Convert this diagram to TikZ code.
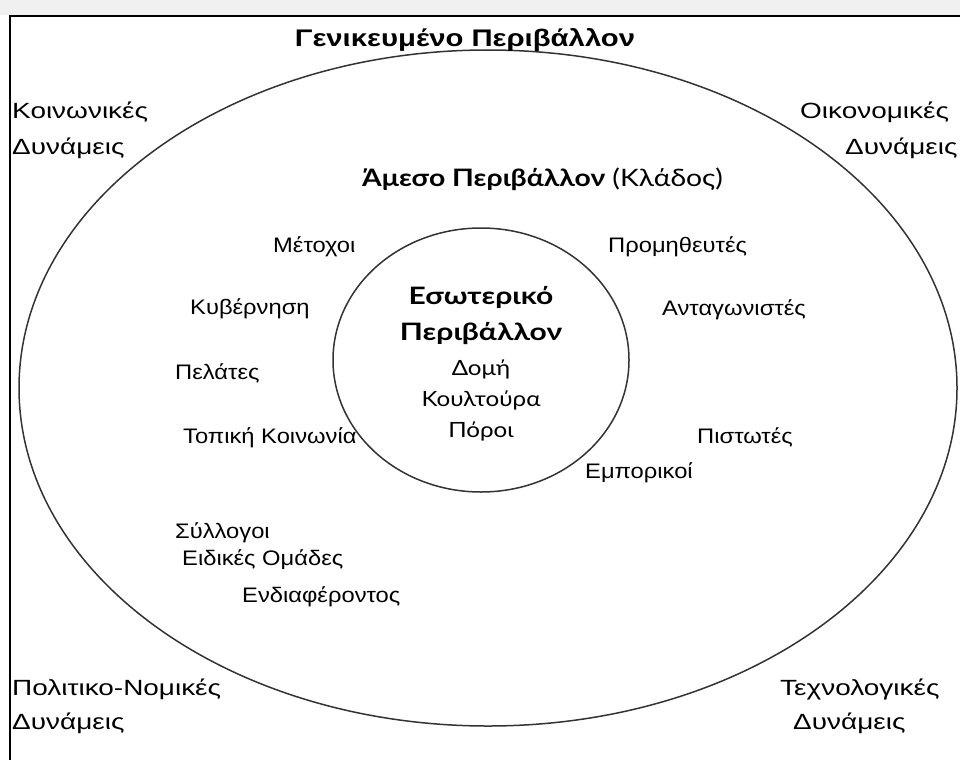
\documentclass[tikz,border=0pt]{standalone}
\usepackage{fontspec}
\usetikzlibrary{shapes.geometric}
\setmainfont{Liberation Sans}
\newfontfamily\cornerfont[FakeStretch=1.27]{Liberation Sans}
\newfontfamily\stakefont[FakeStretch=1.13]{Liberation Sans}
\newfontfamily\titlefont[FakeStretch=1.22]{Liberation Sans}
\newfontfamily\humfont[FakeStretch=1.18]{Lato}
\newfontfamily\humwide[FakeStretch=1.25]{Lato}
\newfontfamily\humreg[FakeStretch=1.15]{Lato}
\begin{document}
\begin{tikzpicture}[x=1pt,y=-1pt,
  corner/.style={inner sep=0pt, anchor=base west, font=\cornerfont\fontsize{22}{26}\selectfont},
  lbl/.style={inner sep=0pt, anchor=base west, font=\stakefont\fontsize{21}{25}\selectfont},
  innerhead/.style={inner sep=0pt, anchor=base, font=\humwide\bfseries\fontsize{24}{28}\selectfont},
  innerlbl/.style={inner sep=0pt, anchor=base, font=\humreg\fontsize{21}{25}\selectfont},
  ring/.style={draw=black!80, line width=1.5pt, ellipse, inner sep=0pt}]
\useasboundingbox (0,0) rectangle (960,760);
\fill[black!6] (0,0) rectangle (960,15);
\draw[line width=1.6pt] (960,16) -- (10,16) -- (10,760);
% ellipses
\node[ring, minimum width=938pt, minimum height=676pt] (outer) at (488,388) {};
\node[ring, minimum width=296pt, minimum height=264pt] (inner) at (481,360) {};
% titles
\node[inner sep=0pt, anchor=base, font=\titlefont\bfseries\fontsize{24}{28}\selectfont] (gen) at (465,46) {Γενικευμένο Περιβάλλον};
\node[inner sep=0pt, anchor=base west, font=\humfont\fontsize{24}{28}\selectfont] (ameso) at (362,186) {{\bfseries Άμεσο Περιβάλλον} (Κλάδος)};
% corner forces
\node[corner] (k1) at (12,118) {Κοινωνικές};
\node[corner] (k2) at (12,154) {Δυνάμεις};
\node[corner] (o1) at (800,118) {Οικονομικές};
\node[corner] (o2) at (845,154) {Δυνάμεις};
\node[corner] (p1) at (12,695) {Πολιτικο-Νομικές};
\node[corner] (p2) at (12,729) {Δυνάμεις};
\node[corner] (t1) at (780,695) {Τεχνολογικές};
\node[corner] (t2) at (793,729) {Δυνάμεις};
% stakeholders
\node[lbl] (metoxoi) at (273,252) {Μέτοχοι};
\node[lbl] (kyv) at (190,314) {Κυβέρνηση};
\node[lbl] (pel) at (175,379) {Πελάτες};
\node[lbl] (topiki) at (183,443) {Τοπική Κοινωνία};
\node[lbl] (prom) at (608,252) {Προμηθευτές};
\node[lbl] (antag) at (662,315) {Ανταγωνιστές};
\node[lbl] (pist) at (697,443) {Πιστωτές};
\node[lbl] (empor) at (585,478) {Εμπορικοί};
\node[lbl] (syl) at (175,538) {Σύλλογοι};
\node[lbl] (eid) at (182,565) {Ειδικές Ομάδες};
\node[lbl] (end) at (242,602) {Ενδιαφέροντος};
% inner
\node[innerhead] (es1) at (481,304) {Εσωτερικό};
\node[innerhead] (es2) at (481,340) {Περιβάλλον};
\node[innerlbl] (in1) at (481,375) {Δομή};
\node[innerlbl] (in2) at (481,406) {Κουλτούρα};
\node[innerlbl] (in3) at (481,437) {Πόροι};
\end{tikzpicture}
\end{document}
